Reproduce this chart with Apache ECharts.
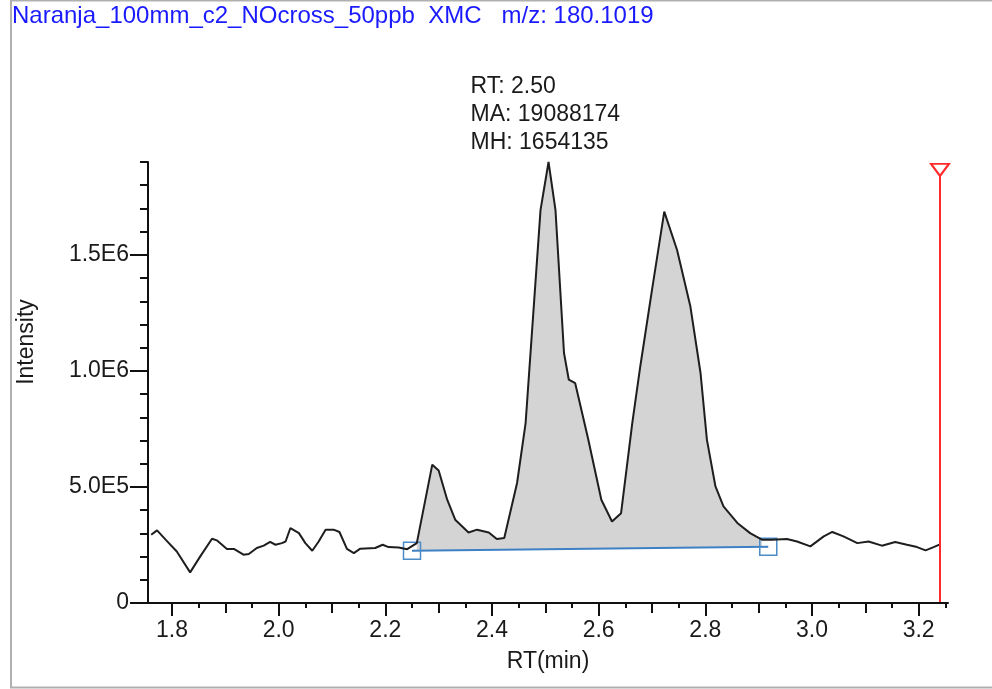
<!DOCTYPE html>
<html>
<head>
<meta charset="utf-8">
<title>XMC 180.1019</title>
<script src="https://cdn.jsdelivr.net/npm/echarts@6/dist/echarts.min.js"></script>
<style>
  html, body { margin: 0; padding: 0; background: #fff; }
  #chart { width: 992px; height: 689px; }
</style>
</head>
<body>
<div id="chart"></div>
<script>
// retention time (min) and intensity
const rtValues = [
  1.761, 1.772, 1.788, 1.809, 1.834, 1.853, 1.875, 1.884, 1.903, 1.916,
  1.934, 1.944, 1.959, 1.972, 1.984, 1.994, 2.006, 2.013, 2.022, 2.038,
  2.050, 2.063, 2.075, 2.088, 2.103, 2.114, 2.128, 2.141, 2.153, 2.181,
  2.195, 2.206, 2.225, 2.241, 2.259, 2.288, 2.300, 2.316, 2.331, 2.356,
  2.372, 2.394, 2.409, 2.423, 2.447, 2.463, 2.491, 2.506, 2.519, 2.535,
  2.544, 2.556, 2.580, 2.605, 2.625, 2.642, 2.663, 2.678, 2.700, 2.723,
  2.747, 2.772, 2.791, 2.803, 2.819, 2.834, 2.860, 2.884, 2.906, 2.925,
  2.953, 2.972, 2.997, 3.022, 3.038, 3.059, 3.085, 3.106, 3.131, 3.156,
  3.178, 3.197, 3.213, 3.228, 3.241
]
const intensityValues = [
  294000, 313000, 273000, 222000, 132000, 201000, 277000, 270000, 233000, 233000,
  208000, 211000, 237000, 247000, 263000, 251000, 258000, 265000, 323000, 301000,
  258000, 225000, 265000, 316000, 316000, 306000, 233000, 215000, 234000, 237000,
  251000, 241000, 239000, 232000, 258000, 596000, 571000, 445000, 359000, 304000,
  316000, 304000, 276000, 280000, 517000, 775000, 1694000, 1900000, 1694000, 1077000,
  962000, 947000, 710000, 445000, 351000, 387000, 775000, 1019000, 1349000, 1686000,
  1521000, 1277000, 991000, 703000, 502000, 416000, 345000, 301000, 273000, 273000,
  276000, 265000, 244000, 287000, 306000, 287000, 258000, 265000, 247000, 263000,
  251000, 241000, 227000, 241000, 254000
]

// integration baseline (start / end)
const baselineRT = [2.25, 2.918]
const baselineIntensity = [225000, 242000]

// peak annotation
const peakRT = '2.50'
const peakMA = 19088174
const peakMH = 1654135

// red marker line
const markerRT = 3.24
const markerTop = 1866000

// axes
const rtMin = 1.755
const rtMax = 3.255
const rtLabelTicks = [1.8, 2.0, 2.2, 2.4, 2.6, 2.8, 3.0, 3.2]
const rtMidTicks = [1.9, 2.1, 2.3, 2.5, 2.7, 2.9, 3.1]
const rtMinorTicks = [1.85, 1.95, 2.05, 2.15, 2.25, 2.35, 2.45, 2.55, 2.65, 2.75, 2.85, 2.95, 3.05, 3.15, 3.25]
const intensityMax = 1900000
const intensityLabelTicks = [0, 500000, 1000000, 1500000]

const titleText = 'Naranja_100mm_c2_NOcross_50ppb  XMC   m/z: 180.1019'

const FONT = 'Liberation Sans, Arial, sans-serif'
const AXIS_COLOR = '#111'
const TEXT_COLOR = '#1a1a1a'

const trace = rtValues.map((t, i) => [t, intensityValues[i]])
const peakArea = trace.filter(p => p[0] >= baselineRT[0] && p[0] <= baselineRT[1])
let apex = trace[0]
trace.forEach(p => { if (p[1] > apex[1]) apex = p })

const sciLabel = v => {
  if (v === 0) return '0'
  const e = Math.floor(Math.log10(v))
  return (v / Math.pow(10, e)).toFixed(1) + 'E' + e
}

const chart = echarts.init(document.getElementById('chart'))

const baseX = {
  type: 'value', min: rtMin, max: rtMax, position: 'bottom', z: 10,
  splitLine: { show: false }
}
const baseY = {
  type: 'value', min: 0, max: intensityMax, position: 'left', z: 10,
  splitLine: { show: false }
}
const tickLine = { color: AXIS_COLOR, width: 2 }

chart.setOption({
  animation: false,
  title: {
    text: titleText,
    left: 12, top: 4, padding: 0,
    textStyle: { color: '#1a1aff', fontSize: 24, fontWeight: 'normal', fontFamily: FONT }
  },
  graphic: [
    {
      type: 'rect', shape: { x: 11, y: 0.5, width: 990, height: 687 },
      style: { fill: 'none', stroke: '#b0b0b0', lineWidth: 2 }, silent: true
    },
    {
      type: 'text', x: 27, y: 342, rotation: Math.PI / 2,
      style: { text: 'Intensity', font: '23px ' + FONT, fill: TEXT_COLOR, align: 'center', verticalAlign: 'middle' }
    }
  ],
  grid: { left: 148, width: 800, top: 162, height: 441 },
  xAxis: [
    Object.assign({}, baseX, {
      name: 'RT(min)', nameLocation: 'middle', nameGap: 47,
      nameTextStyle: { color: TEXT_COLOR, fontSize: 23, fontFamily: FONT },
      axisLine: { lineStyle: { color: AXIS_COLOR, width: 2 } },
      axisTick: { customValues: rtLabelTicks, length: 13, lineStyle: tickLine },
      axisLabel: {
        customValues: rtLabelTicks, margin: 16,
        color: TEXT_COLOR, fontSize: 23, fontFamily: FONT,
        formatter: v => v.toFixed(1)
      }
    }),
    Object.assign({}, baseX, {
      axisLine: { show: false },
      axisTick: { customValues: rtMidTicks, length: 10, lineStyle: tickLine },
      axisLabel: { show: false }
    }),
    Object.assign({}, baseX, {
      axisLine: { show: false },
      axisTick: { customValues: rtMinorTicks, length: 5, lineStyle: tickLine },
      axisLabel: { show: false }
    })
  ],
  yAxis: [
    Object.assign({}, baseY, {
      axisLine: { show: true, lineStyle: { color: AXIS_COLOR, width: 2 } },
      axisTick: { customValues: intensityLabelTicks, length: 18, lineStyle: tickLine },
      axisLabel: {
        customValues: intensityLabelTicks, margin: 19,
        color: TEXT_COLOR, fontSize: 23, fontFamily: FONT,
        formatter: sciLabel
      }
    }),
    Object.assign({}, baseY, {
      interval: 100000,
      axisLine: { show: false },
      axisTick: { length: 8, lineStyle: tickLine },
      axisLabel: { show: false }
    })
  ],
  series: [
    {
      name: 'peak area',
      type: 'line',
      data: peakArea,
      z: 2,
      symbol: 'none',
      lineStyle: { width: 0 },
      areaStyle: { color: '#d4d4d4', opacity: 1 }
    },
    {
      name: 'baseline',
      type: 'line',
      data: baselineRT.map((t, i) => [t, baselineIntensity[i]]),
      z: 3,
      symbol: 'rect',
      symbolSize: 17,
      showSymbol: true,
      lineStyle: { color: '#3d80c4', width: 2 },
      itemStyle: { color: 'rgba(0,0,0,0)', borderColor: '#4a8bc8', borderWidth: 1.5 },
      areaStyle: { color: '#fff', opacity: 1 }
    },
    {
      name: 'XMC',
      type: 'line',
      data: trace,
      z: 4,
      symbol: 'none',
      lineStyle: { color: '#1e1e1e', width: 2 },
      markPoint: {
        symbol: 'circle',
        symbolSize: 0,
        data: [{ coord: apex }],
        label: {
          show: true,
          position: 'top',
          distance: 5,
          align: 'left',
          offset: [-78, 0],
          lineHeight: 28,
          color: TEXT_COLOR,
          fontSize: 23,
          fontFamily: FONT,
          formatter: () => ['RT: ' + peakRT, 'MA: ' + peakMA, 'MH: ' + peakMH].join('\n')
        }
      }
    },
    {
      name: 'marker',
      type: 'line',
      z: 5,
      data: [
        { value: [markerRT, 0], symbol: 'none' },
        {
          value: [markerRT, markerTop],
          symbol: 'triangle', symbolRotate: 180, symbolSize: [18, 12],
          itemStyle: { color: '#fff', borderColor: '#ff2a2a', borderWidth: 2 }
        }
      ],
      showSymbol: true,
      lineStyle: { color: '#ff2a2a', width: 2 }
    }
  ]
})
</script>
</body>
</html>
